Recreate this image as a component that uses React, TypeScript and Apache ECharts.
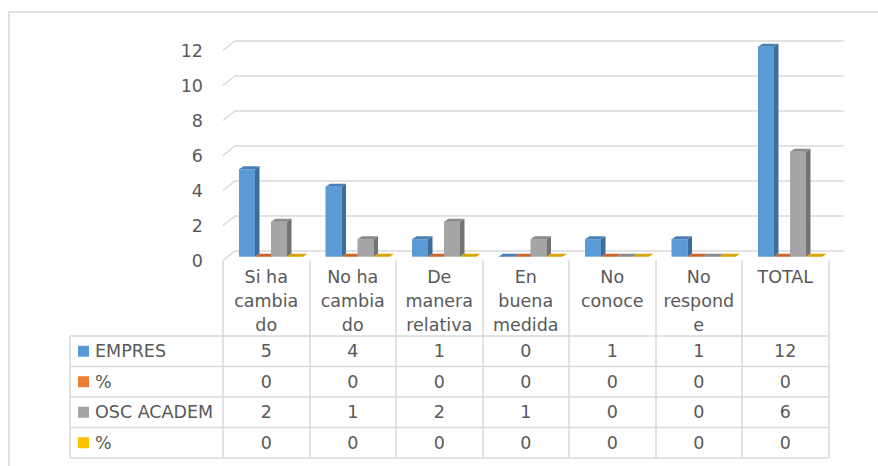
import React, { useEffect, useRef } from "react";
import * as echarts from "echarts";

const categories = [
  "Si ha\ncambia\ndo",
  "No ha\ncambia\ndo",
  "De\nmanera\nrelativa",
  "En\nbuena\nmedida",
  "No\nconoce",
  "No\nrespond\ne",
  "TOTAL",
];
const seriesNames = ["EMPRES", "%", "OSC ACADEM", "%"];
const empres = [5, 4, 1, 0, 1, 1, 12];
const pctEmpres = [0, 0, 0, 0, 0, 0, 0];
const oscAcadem = [2, 1, 2, 1, 0, 0, 6];
const pctOsc = [0, 0, 0, 0, 0, 0, 0];
const yTicks = [0, 2, 4, 6, 8, 10, 12];

const seriesValues = [empres, pctEmpres, oscAcadem, pctOsc];
const palette = [
  { front: "#5B9BD5", side: "#3E6D9A", top: "#4A80B6" },
  { front: "#ED7D31", side: "#A9571F", top: "#C9662A" },
  { front: "#A5A5A5", side: "#737373", top: "#8A8A8A" },
  { front: "#FFC000", side: "#B88A00", top: "#D9A300" },
];

const FONT = '"DejaVu Sans", sans-serif';
const FS = 17.5;
const TEXT = "#595959";
const LINE = "#D9D9D9";
const GRID_LEFT = 223;
const GRID_TOP = 50.5;
const GRID_W = 605.5;
const GRID_H = 210;
const WALL_DX = 12;
const WALL_DY = -9.5;
const WALL_RIGHT_EXTRA = 15;
const BAR_FRAC = 0.185;
const BAR_DY = -3.8;
const DEPTH_X = 4.5;
const DEPTH_Y = 3;
const TABLE_LEFT = 70;
const ROW_TOP = 336;
const ROW_H = 30.5;

function barSeries(s: number) {
  const col = palette[s];
  return {
    type: "custom",
    name: seriesNames[s],
    clip: false,
    z: 3,
    data: seriesValues[s].map((v, i) => [i, v]),
    encode: { x: 0, y: 1 },
    renderItem: (params: any, api: any) => {
      const ci = api.value(0);
      const v = api.value(1);
      const band = api.size([1, 0])[0];
      const c0 = api.coord([ci, 0]);
      const c1 = api.coord([ci, v]);
      const w = band * BAR_FRAC;
      const x = c0[0] - band / 2 + w * (1 + s);
      const yB = c0[1] + BAR_DY;
      const yT = c1[1] + BAR_DY;
      const children: any[] = [];
      if (yB - yT > 0.5) {
        children.push({
          type: "rect",
          shape: { x, y: yT, width: w, height: yB - yT },
          style: { fill: col.front },
        });
        children.push({
          type: "polygon",
          shape: {
            points: [
              [x + w, yT],
              [x + w + DEPTH_X, yT - DEPTH_Y],
              [x + w + DEPTH_X, yB - DEPTH_Y],
              [x + w, yB],
            ],
          },
          style: { fill: col.side },
        });
      }
      children.push({
        type: "polygon",
        shape: {
          points: [
            [x, yT],
            [x + DEPTH_X, yT - DEPTH_Y],
            [x + w + DEPTH_X, yT - DEPTH_Y],
            [x + w, yT],
          ],
        },
        style: { fill: col.top },
      });
      return { type: "group", children };
    },
  };
}

export default function App() {
  const ref = useRef<HTMLDivElement>(null);
  useEffect(() => {
    if (!ref.current) return;
    const chart = echarts.init(ref.current, undefined, { renderer: "svg" });
    chart.setOption({
      animation: false,
      backgroundColor: "#ffffff",
      grid: { left: GRID_LEFT, top: GRID_TOP, width: GRID_W, height: GRID_H },
      xAxis: {
        type: "category",
        data: categories,
        axisLine: { show: false },
        axisTick: {
          show: true,
          interval: 0,
          length: ROW_TOP + 4 * ROW_H - (GRID_TOP + GRID_H),
          lineStyle: { color: LINE, width: 1.5 },
        },
        axisLabel: {
          interval: 0,
          margin: 4.5,
          color: TEXT,
          fontSize: FS,
          lineHeight: 24,
          fontFamily: FONT,
        },
      },
      yAxis: {
        type: "value",
        min: 0,
        max: 12,
        interval: 2,
        axisLine: { show: false },
        axisTick: { show: false },
        splitLine: { show: false },
        axisLabel: { margin: 20, color: TEXT, fontSize: FS, fontFamily: FONT },
      },
      series: [
        {
          type: "custom",
          name: "grid",
          clip: false,
          z: 1,
          silent: true,
          data: yTicks.map((v) => [0, v]),
          encode: { x: 0, y: 1 },
          renderItem: (params: any, api: any) => {
            const cs = params.coordSys;
            const p = api.coord([0, api.value(1)]);
            return {
              type: "polyline",
              shape: {
                points: [
                  [cs.x, p[1]],
                  [cs.x + WALL_DX, p[1] + WALL_DY],
                  [cs.x + cs.width + WALL_RIGHT_EXTRA, p[1] + WALL_DY],
                ],
              },
              style: { stroke: LINE, lineWidth: 1.5, fill: null },
            };
          },
        },
        barSeries(0),
        barSeries(1),
        barSeries(2),
        barSeries(3),
      ],
    });

    const xs = categories.map((_, i) => chart.convertToPixel({ xAxisIndex: 0 }, i) as number);
    const band = xs.length > 1 ? xs[1] - xs[0] : GRID_W;
    const rightX = xs[xs.length - 1] + band / 2;
    const graphics: any[] = [
      {
        type: "rect",
        shape: { x: 9, y: 12, width: 1000, height: 1000 },
        style: { fill: null, stroke: LINE, lineWidth: 1.5 },
        silent: true,
      },
    ];
    for (let r = 0; r <= 4; r++) {
      const y = ROW_TOP + r * ROW_H;
      graphics.push({
        type: "line",
        shape: { x1: TABLE_LEFT, y1: y, x2: rightX, y2: y },
        style: { stroke: LINE, lineWidth: 1.5 },
      });
    }
    graphics.push({
      type: "line",
      shape: { x1: TABLE_LEFT, y1: ROW_TOP, x2: TABLE_LEFT, y2: ROW_TOP + 4 * ROW_H },
      style: { stroke: LINE, lineWidth: 1.5 },
    });
    seriesNames.forEach((name, r) => {
      const cy = ROW_TOP + r * ROW_H + ROW_H / 2;
      graphics.push({
        type: "rect",
        shape: { x: 78, y: cy - 5.5, width: 11, height: 11 },
        style: { fill: palette[r].front },
      });
      graphics.push({
        type: "text",
        style: {
          text: name,
          x: 95,
          y: cy,
          fill: TEXT,
          fontSize: FS,
          fontFamily: FONT,
          align: "left",
          verticalAlign: "middle",
        },
      });
      seriesValues[r].forEach((v, i) => {
        graphics.push({
          type: "text",
          style: {
            text: String(v),
            x: xs[i],
            y: cy,
            fill: TEXT,
            fontSize: FS,
            fontFamily: FONT,
            align: "center",
            verticalAlign: "middle",
          },
        });
      });
    });
    chart.setOption({ graphic: graphics });
    return () => chart.dispose();
  }, []);
  return (
    <div
      ref={ref}
      style={{ position: "fixed", left: 0, top: 0, width: 878, height: 466, background: "#fff" }}
    />
  );
}
